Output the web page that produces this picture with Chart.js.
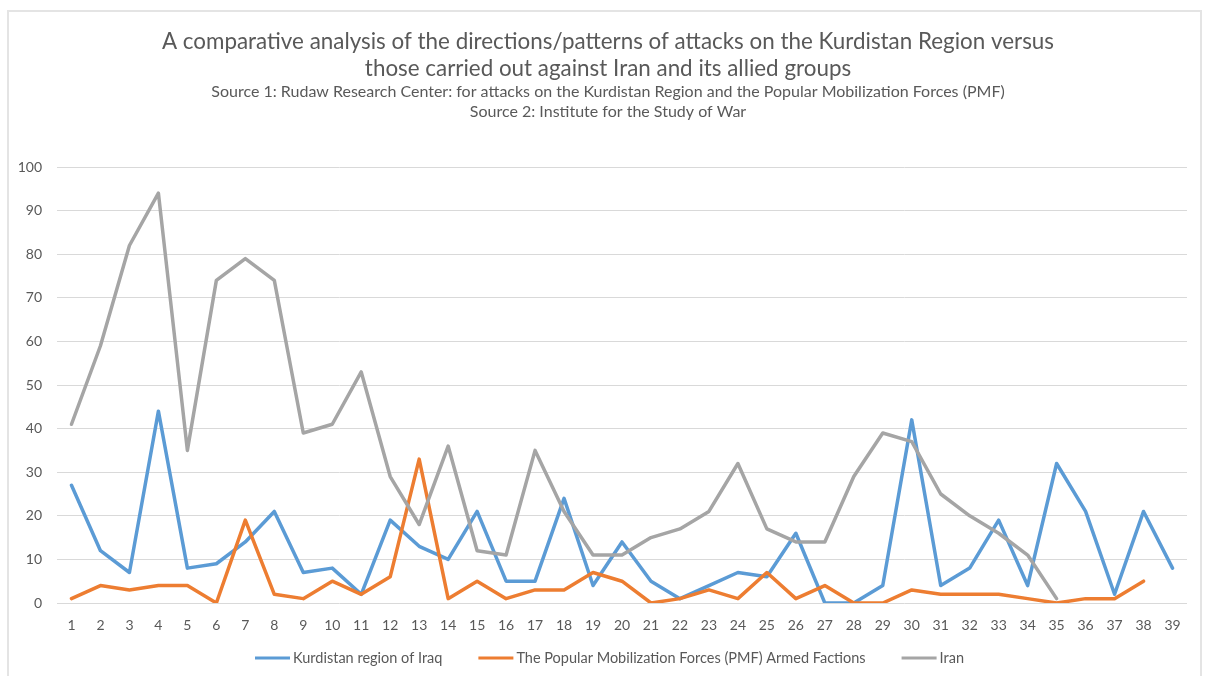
<!DOCTYPE html>
<html>
<head>
<meta charset="utf-8">
<title>Attacks on the Kurdistan Region vs. Iran and allied groups</title>
<script src="https://cdn.jsdelivr.net/npm/chart.js@4/dist/chart.umd.min.js"></script>
<style>
  html, body { margin: 0; padding: 0; background: #ffffff; }
  #wrap { position: relative; width: 1205px; height: 676px; overflow: hidden; }
  #frame {
    position: absolute; left: 7px; top: 10px; width: 1195px; height: 720px;
    border: 2px solid #e4e4e4; box-sizing: border-box;
  }
  #chart { position: absolute; left: 0; top: 0; }
</style>
</head>
<body>
<div id="wrap">
  <div id="frame"></div>
  <canvas id="chart" width="1205" height="676"></canvas>
</div>
<script>
// Period index (1..39)
const periods = ['1','2','3','4','5','6','7','8','9','10','11','12','13','14','15','16','17','18','19','20',
                 '21','22','23','24','25','26','27','28','29','30','31','32','33','34','35','36','37','38','39'];

// Attacks on the Kurdistan region of Iraq
const kurdistan = [27, 12, 7, 44, 8, 9, 14, 21, 7, 8, 2, 19, 13, 10, 21, 5, 5, 24, 4, 14,
                   5, 1, 4, 7, 6, 16, 0, 0, 4, 42, 4, 8, 19, 4, 32, 21, 2, 21, 8];

// Attacks on PMF armed factions
const pmf = [1, 4, 3, 4, 4, 0, 19, 2, 1, 5, 2, 6, 33, 1, 5, 1, 3, 3, 7, 5,
             0, 1, 3, 1, 7, 1, 4, 0, 0, 3, 2, 2, 2, 1, 0, 1, 1, 5, null];

// Attacks on Iran
const iran = [41, 59, 82, 94, 35, 74, 79, 74, 39, 41, 53, 29, 18, 36, 12, 11, 35, 21, 11, 11,
              15, 17, 21, 32, 17, 14, 14, 29, 39, 37, 25, 20, 16, 11, 1, null, null, null, null];

const seriesNames = ['Kurdistan region of Iraq', 'The Popular Mobilization Forces (PMF) Armed Factions', 'Iran'];
const seriesColors = ['#5B9BD5', '#ED7D31', '#A5A5A5'];

const titleLines = [
  'A comparative analysis of the directions/patterns of attacks on the Kurdistan Region versus',
  'those carried out against Iran and its allied groups'
];
const subtitleLines = [
  'Source 1: Rudaw Research Center: for attacks on the Kurdistan Region and the Popular Mobilization Forces (PMF)',
  'Source 2: Institute for the Study of War'
];

const yMin = 0, yMax = 100, yStep = 10;

const textColor = '#595959';
const gridColor = '#d9d9d9';
const fontFamily = 'Lato, "Open Sans", sans-serif';

function lineSeries(label, data, color, order) {
  return {
    label, data, order,
    borderColor: color,
    backgroundColor: color,
    borderWidth: 3.5,
    pointRadius: 0,
    pointHoverRadius: 0,
    tension: 0,
    spanGaps: false,
    borderJoinStyle: 'round',
    borderCapStyle: 'round'
  };
}

// Center the title and subtitle blocks within the framed area
const headerSpan = {
  id: 'headerSpan',
  afterLayout(chart, args, opts) {
    chart.boxes.forEach(b => {
      if (b.position === 'top' && b.fullSize) {
        b.left = opts.left;
        b.right = opts.right;
        b.width = opts.right - opts.left;
      }
    });
  }
};

// Bottom legend: short line sample followed by the series name, in dataset order
const lineLegend = {
  id: 'lineLegend',
  afterDraw(chart, args, opts) {
    const ctx = chart.ctx;
    ctx.save();
    ctx.font = `${opts.fontSize}px ${fontFamily}`;
    ctx.textBaseline = 'middle';
    ctx.textAlign = 'left';
    const items = chart.data.datasets.map(ds => ({
      text: ds.label, color: ds.borderColor, w: ctx.measureText(ds.label).width
    }));
    const total = items.reduce((s, it) => s + opts.sample + opts.gap + it.w, 0) + opts.spacing * (items.length - 1);
    let x = opts.centerX - total / 2;
    items.forEach(it => {
      ctx.fillStyle = it.color;
      ctx.fillRect(x, opts.y - 1.5, opts.sample, 3);
      x += opts.sample + opts.gap;
      ctx.fillStyle = textColor;
      ctx.fillText(it.text, x, opts.y);
      x += it.w + opts.spacing;
    });
    ctx.restore();
  }
};

new Chart(document.getElementById('chart'), {
  type: 'line',
  data: {
    labels: periods,
    datasets: [
      lineSeries(seriesNames[0], kurdistan, seriesColors[0], 3),
      lineSeries(seriesNames[1], pmf, seriesColors[1], 2),
      lineSeries(seriesNames[2], iran, seriesColors[2], 1)
    ]
  },
  plugins: [headerSpan, lineLegend],
  options: {
    responsive: false,
    animation: false,
    events: [],
    layout: { padding: { top: 28, left: 0, right: 18, bottom: 33 } },
    plugins: {
      title: {
        display: true,
        text: titleLines,
        color: textColor,
        font: { family: fontFamily, size: 22.4, weight: 'normal', lineHeight: 27 / 22.4 },
        padding: { top: 0, bottom: 0 }
      },
      subtitle: {
        display: true,
        text: subtitleLines,
        color: textColor,
        font: { family: fontFamily, size: 16, weight: 'normal', lineHeight: 20 / 16 },
        padding: { top: 0, bottom: 45 }
      },
      headerSpan: { left: 29, right: 1187 },
      legend: { display: false },
      lineLegend: { centerX: 609.5, y: 658, fontSize: 14.5, sample: 35, gap: 3, spacing: 36 },
      tooltip: { enabled: false }
    },
    scales: {
      x: {
        offset: true,
        grid: { display: false, drawTicks: false },
        border: { display: false },
        ticks: {
          color: textColor,
          font: { family: fontFamily, size: 14 },
          padding: 14,
          autoSkip: false,
          maxRotation: 0
        },
        afterFit: (scale) => { scale.height = 40; }
      },
      y: {
        min: yMin,
        max: yMax,
        grid: { color: gridColor, lineWidth: 1, drawTicks: false },
        border: { display: false },
        ticks: {
          stepSize: yStep,
          color: textColor,
          font: { family: fontFamily, size: 14 },
          padding: 15
        },
        afterFit: (scale) => { scale.width = 57; }
      }
    }
  }
});
</script>
</body>
</html>
